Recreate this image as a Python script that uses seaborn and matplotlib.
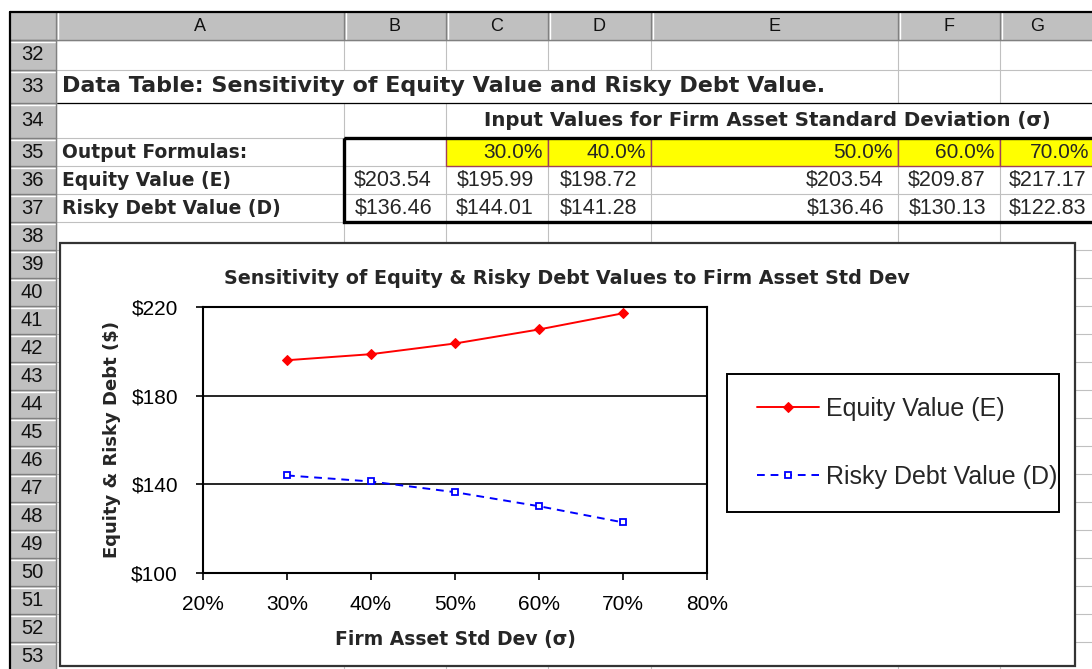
import matplotlib
matplotlib.use("Agg")
import matplotlib.pyplot as plt
from matplotlib.patches import Rectangle
from matplotlib.ticker import FixedLocator, FuncFormatter
import pandas as pd
import seaborn as sns

# data
sigma = [0.30, 0.40, 0.50, 0.60, 0.70]
equity = [195.99, 198.72, 203.54, 209.87, 217.17]
debt = [144.01, 141.28, 136.46, 130.13, 122.83]
base_equity = 203.54
base_debt = 136.46

col_letters = ["A", "B", "C", "D", "E", "F", "G"]
row_numbers = list(range(32, 54))
row_labels = ["Output Formulas:", "Equity Value (E)", "Risky Debt Value (D)"]
series_names = ["Equity Value (E)", "Risky Debt Value (D)"]
y_ticks = [100, 140, 180, 220]
x_ticks = [0.2, 0.3, 0.4, 0.5, 0.6, 0.7, 0.8]

sheet_title = "Data Table: Sensitivity of Equity Value and Risky Debt Value."
input_title = "Input Values for Firm Asset Standard Deviation (σ)"
chart_title = "Sensitivity of Equity & Risky Debt Values to Firm Asset Std Dev"

W, H = 1092, 669
col_edges = [56, 344, 446, 548, 651, 898, 1000, 1100]
row_edges = [40, 70, 103, 138] + [138 + 28 * k for k in range(1, 20)]

sns.set_theme(style="white")
plt.rcParams["font.family"] = ["Liberation Sans", "DejaVu Sans"]
BOLD = ["DejaVu Sans"]

fig = plt.figure(figsize=(W / 100, H / 100), dpi=100)
bg = fig.add_axes([0, 0, 1, 1])
bg.set_xlim(0, W)
bg.set_ylim(H, 0)
bg.axis("off")

GRID = "#c0c0c0"
HDR = "#c0c0c0"


def row_span(r):
    i = r - 32
    return row_edges[i], row_edges[i + 1]


def row_mid(r):
    a, b = row_span(r)
    return (a + b) / 2


# cell gridlines, hidden where text spills over
hidden = {33: {344, 446, 548, 651}, 34: {548, 651, 898, 1000}}
for r in row_numbers:
    y0, y1 = row_span(r)
    for e in col_edges[1:-1]:
        if e in hidden.get(r, set()):
            continue
        bg.plot([e, e], [y0, y1], color=GRID, lw=0.8, zorder=1)
for e in row_edges[1:]:
    bg.plot([56, W], [e, e], color=GRID, lw=0.8, zorder=1)

# bottom border of the title row
bg.plot([56, W], [103, 103], color="black", lw=0.9, zorder=2)

# headers
bg.add_patch(Rectangle((10, 12), W - 10, 28, color=HDR, zorder=2))
bg.add_patch(Rectangle((10, 40), 46, H - 40, color=HDR, zorder=2))
for e in col_edges:
    bg.plot([e, e], [12, 40], color="#808080", lw=1.0, zorder=3)
    bg.plot([e + 1.5, e + 1.5], [13, 39], color="white", lw=1.0, zorder=3)
for e in row_edges:
    bg.plot([10, 56], [e, e], color="#808080", lw=1.0, zorder=3)
    bg.plot([11, 55], [e + 1.5, e + 1.5], color="white", lw=1.0, zorder=3)
bg.plot([56, 56], [40, H], color="#808080", lw=1.0, zorder=3)
bg.plot([10, W], [40, 40], color="#808080", lw=1.0, zorder=3)
bg.plot([10, W], [12, 12], color="black", lw=1.6, zorder=4)
bg.plot([10, 10], [12, H], color="black", lw=1.6, zorder=4)

for i, letter in enumerate(col_letters):
    xc = (col_edges[i] + col_edges[i + 1]) / 2
    if letter == "G":
        xc = 1037
    bg.text(xc, 26.5, letter, ha="center", va="center", fontsize=13, color="#111111", zorder=4)
for r in row_numbers:
    bg.text(32, row_mid(r), str(r), ha="center", va="center", fontsize=14.5, color="#111111", zorder=4)

# sheet text
bg.text(62, row_mid(33), sheet_title, ha="left", va="center", fontsize=16,
        fontweight="bold", family=BOLD, zorder=4)
bg.text(767, row_mid(34), input_title, ha="center", va="center", fontsize=14.2,
        fontweight="bold", family=BOLD, zorder=4)
for r, lab in zip([35, 36, 37], row_labels):
    bg.text(62, row_mid(r), lab, ha="left", va="center", fontsize=13.5,
            fontweight="bold", family=BOLD, zorder=4)

# yellow input cells
for i, s in enumerate(sigma):
    x0, x1 = col_edges[i + 2], col_edges[i + 3]
    y0, y1 = row_span(35)
    bg.add_patch(Rectangle((x0, y0), x1 - x0, y1 - y0, facecolor="#ffff00",
                           edgecolor="#a0405a", lw=1.0, zorder=3))
    bg.text(min(x1, 1094) - 5, row_mid(35), f"{s:.1%}", ha="right", va="center",
            fontsize=15, zorder=4)

# output values
for r, base, vals in [(36, base_equity, equity), (37, base_debt, debt)]:
    bg.text(col_edges[2] - 14, row_mid(r), f"${base:,.2f}", ha="right", va="center",
            fontsize=15.5, zorder=4)
    for i, v in enumerate(vals):
        bg.text(min(col_edges[i + 3], 1104) - 14, row_mid(r), f"${v:,.2f}", ha="right",
                va="center", fontsize=15.5, zorder=4)

# thick box around the data table
bg.add_patch(Rectangle((344, 138), 760, 84, fill=False, edgecolor="black", lw=2.4, zorder=5))

# chart frame and legend box
bg.add_patch(Rectangle((60, 243), 1015, 423, facecolor="white", edgecolor="#333333", lw=1.6, zorder=6))
bg.add_patch(Rectangle((727, 374), 332, 138, facecolor="white", edgecolor="black", lw=1.4, zorder=7))

# chart
ax = fig.add_axes([203 / W, 1 - 573 / H, 504 / W, 266 / H])
df = pd.DataFrame({
    "sigma": sigma * 2,
    "value": equity + debt,
    "series": [series_names[0]] * len(sigma) + [series_names[1]] * len(sigma),
})
sns.lineplot(data=df, x="sigma", y="value", hue="series", style="series",
             palette={series_names[0]: "#ff0000", series_names[1]: "#0000ff"},
             markers={series_names[0]: "D", series_names[1]: "s"},
             dashes={series_names[0]: "", series_names[1]: (4, 3)},
             lw=1.4, markersize=5, legend=False, ax=ax)
lines = ax.lines[:2]
lines[0].set_markeredgecolor("#ff0000")
lines[0].set_markerfacecolor("#ff0000")
lines[1].set_markeredgecolor("#0000ff")
lines[1].set_markerfacecolor("white")
lines[1].set_markeredgewidth(1.3)

ax.set_xlim(0.2, 0.8)
ax.set_ylim(100, 220)
ax.xaxis.set_major_locator(FixedLocator(x_ticks))
ax.yaxis.set_major_locator(FixedLocator(y_ticks))
ax.xaxis.set_major_formatter(FuncFormatter(lambda v, p: f"{v:.0%}"))
ax.yaxis.set_major_formatter(FuncFormatter(lambda v, p: f"${v:.0f}"))
ax.tick_params(axis="both", direction="out", length=5, width=1.2, color="black",
               labelsize=15, labelcolor="black")
ax.tick_params(axis="y", pad=13, left=True)
ax.tick_params(axis="x", pad=11, bottom=True)
ax.yaxis.grid(True, color="black", lw=1.2)
ax.xaxis.grid(False)
for sp in ax.spines.values():
    sp.set_color("black")
    sp.set_linewidth(1.5)

ax.set_xlabel("Firm Asset Std Dev (σ)", fontsize=13.5, fontweight="bold", family=BOLD)
ax.set_ylabel("Equity & Risky Debt ($)", fontsize=13, fontweight="bold", family=BOLD)
ax.xaxis.label.set_va("center")
ax.yaxis.label.set_va("center")
ax.xaxis.set_label_coords(0.5, (573 - 640) / 266)
ax.yaxis.set_label_coords((112 - 203) / 504, 0.5)

fig.text(567 / W, 1 - 278 / H, chart_title, ha="center", va="center",
         fontsize=13.8, fontweight="bold", family=BOLD)

ax.legend(lines, series_names, loc="center left",
          bbox_to_anchor=(744 / W, 1 - 443 / H), bbox_transform=fig.transFigure,
          frameon=False, borderpad=0, handlelength=2.5, handletextpad=0.3,
          labelspacing=1.75, fontsize=18)

fig.savefig("out.png", dpi=100)
